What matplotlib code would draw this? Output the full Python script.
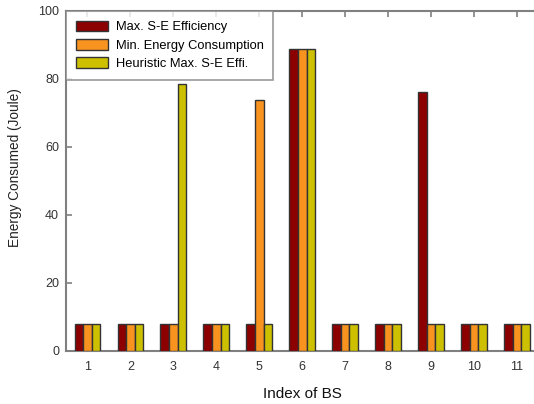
import numpy as np
import matplotlib
matplotlib.use("Agg")
import matplotlib.pyplot as plt

plt.rcParams['font.family'] = ['Liberation Sans', 'DejaVu Sans']

# energy per base station for the three schemes
bs_index = [1, 2, 3, 4, 5, 6, 7, 8, 9, 10, 11]
max_se_eff = [8, 8, 8, 8, 8, 88.7, 8, 8, 76.2, 8, 8]
min_energy = [8, 8, 8, 8, 73.8, 88.7, 8, 8, 8, 8, 8]
heur_max_se = [8, 8, 78.6, 8, 8, 88.7, 8, 8, 8, 8, 8]

labels = ['Max. S-E Efficiency', 'Min. Energy Consumption', 'Heuristic Max. S-E Effi.']
colors = ['#8c0000', '#f7931e', '#ccc000']

fig = plt.figure(figsize=(5.34, 4.04), dpi=100)
ax = fig.add_axes([0.1236, 0.1312, 0.8848, 0.8416])

x = np.array(bs_index)
w = 0.2
for k, (vals, lab, c) in enumerate(zip([max_se_eff, min_energy, heur_max_se], labels, colors)):
    ax.bar(x + (k - 1) * w, vals, width=w, color=c, edgecolor='#333333',
           linewidth=1.0, label=lab, zorder=3)

ax.set_xlim(0.5, 11.5)
ax.set_ylim(0, 100)
ax.set_xticks(x)
ax.set_yticks([0, 20, 40, 60, 80, 100])

for s in ax.spines.values():
    s.set_color('#808080')
    s.set_linewidth(1.5)

ax.tick_params(axis='both', direction='in', colors='#808080', labelcolor='#333333',
               labelsize=9, length=4, width=1.2, top=True)
ax.tick_params(axis='x', pad=7)
ax.tick_params(axis='y', pad=5)

ax.set_xlabel('Index of BS', fontsize=11, color='#111111', labelpad=10)
ax.set_ylabel('Energy Consumed (Joule)', fontsize=9.8, color='#222222')
ax.yaxis.set_label_coords(-0.094, 0.54)

leg = ax.legend(loc='upper left', fontsize=9.3, frameon=True, fancybox=False,
                borderaxespad=0, handlelength=2.5, handleheight=0.9,
                handletextpad=0.6, borderpad=0.75, labelspacing=0.42)
leg.get_frame().set_edgecolor('#808080')
leg.get_frame().set_linewidth(1.2)

fig.savefig('out.png', dpi=100)
